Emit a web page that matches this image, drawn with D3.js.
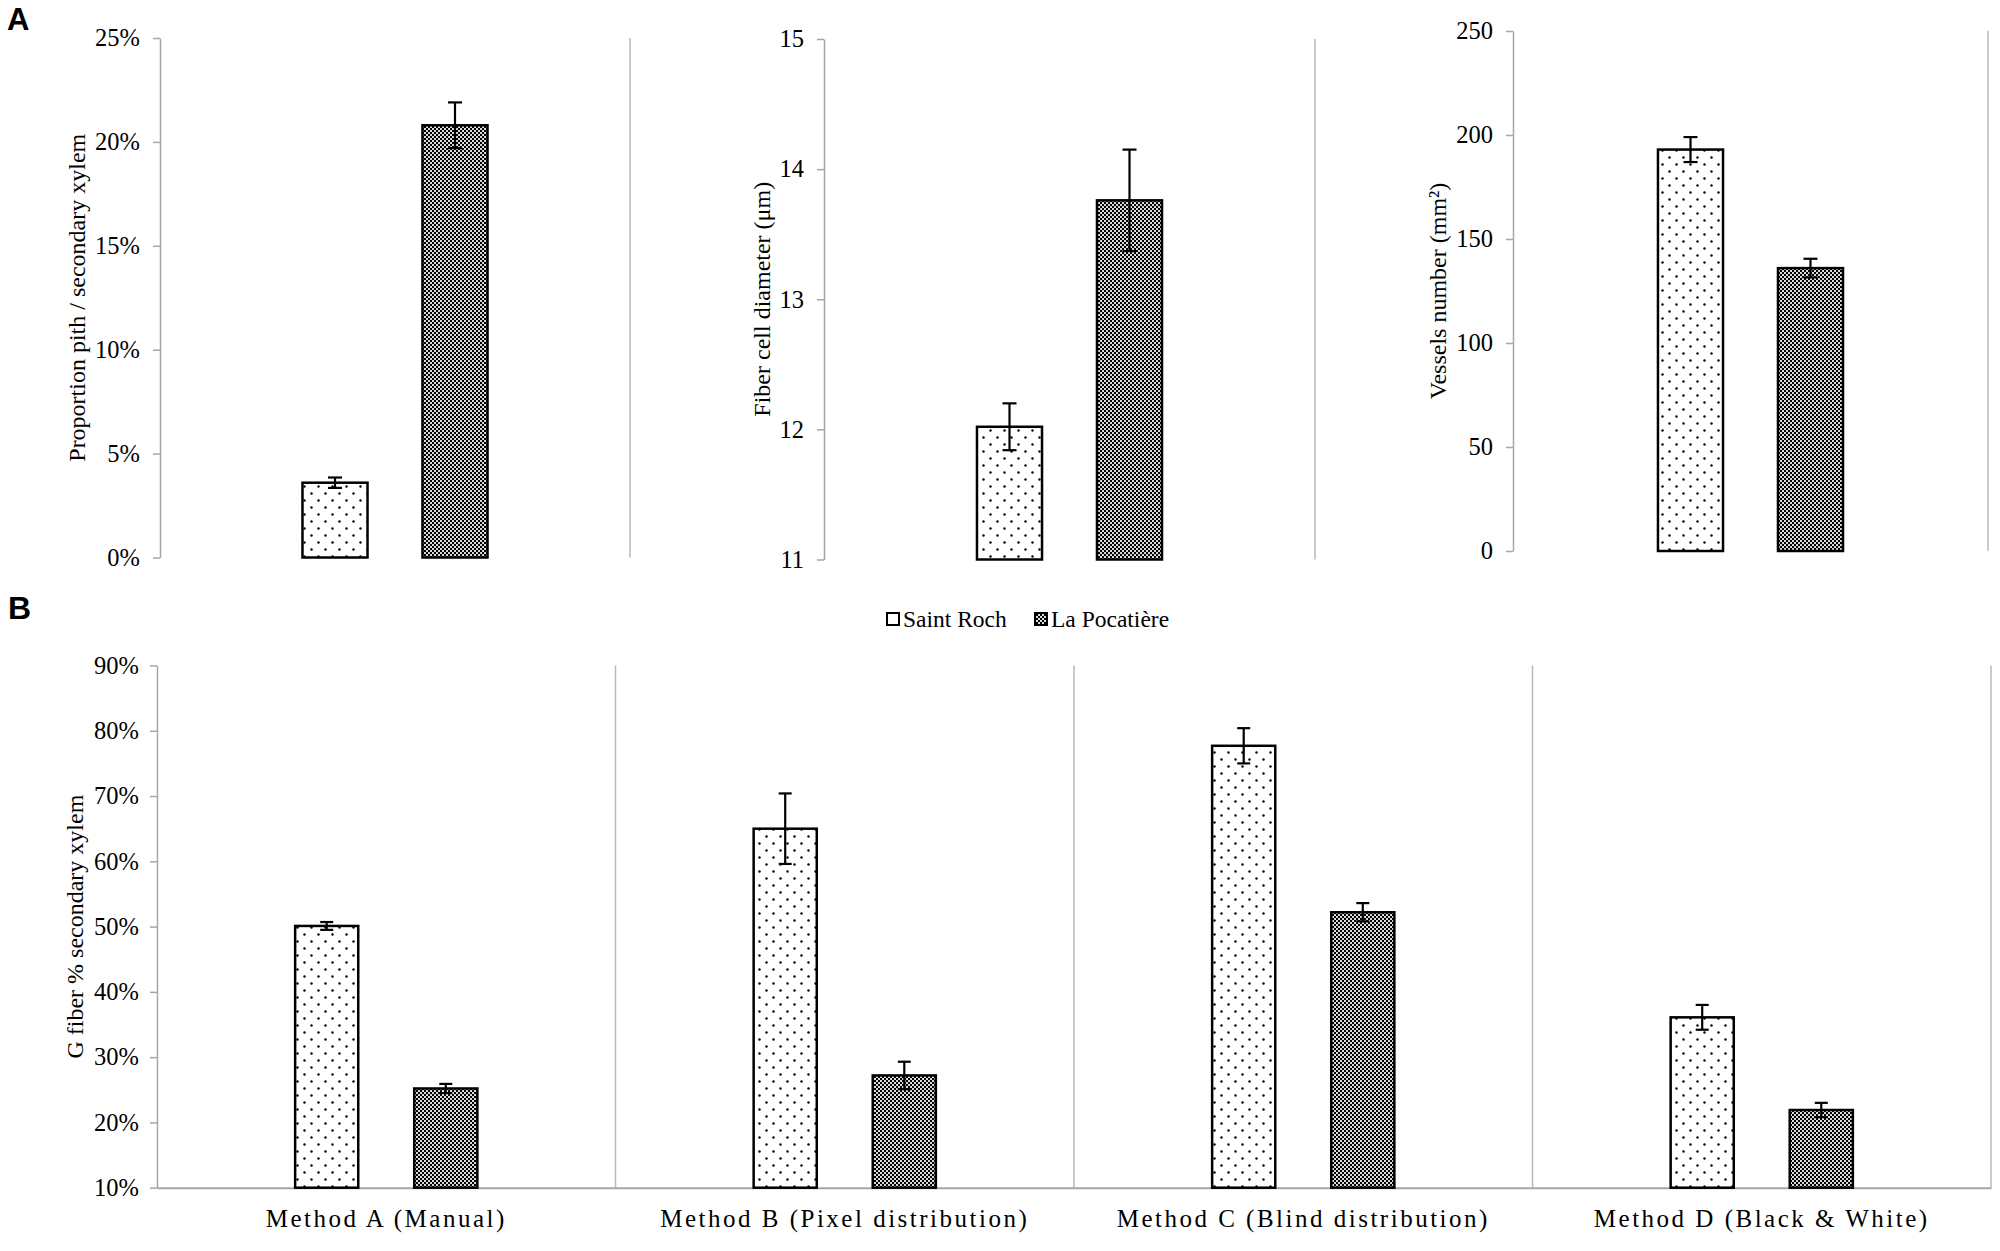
<!DOCTYPE html>
<html>
<head>
<meta charset="utf-8">
<script src="https://cdn.jsdelivr.net/npm/d3@7"></script>
<style>
  html, body { margin: 0; padding: 0; background: #fff; }
  svg { display: block; }
  text { font-family: "Liberation Serif", "Times New Roman", serif; fill: #000; }
  .panel-letter { font-family: "Liberation Sans", Arial, sans-serif; font-weight: bold; }
</style>
</head>
<body>
<svg id="chart" width="2000" height="1251"></svg>
<script>
// ---------------- data ----------------
const seriesNames = ["Saint Roch", "La Pocatière"];

const pithTitle = "Proportion pith / secondary xylem";
const pithValues = [0.036, 0.208];
const pithErrors = [0.0025, 0.011];
const pithTicks = [0, 0.05, 0.10, 0.15, 0.20, 0.25];

const fiberTitle = "Fiber cell diameter (μm)";
const fiberValues = [12.02, 13.76];
const fiberErrors = [0.18, 0.39];
const fiberTicks = [11, 12, 13, 14, 15];

const vesselTitle = "Vessels number (mm²)";
const vesselValues = [193, 136];
const vesselErrors = [6, 4.5];
const vesselTicks = [0, 50, 100, 150, 200, 250];

const methods = ["Method A (Manual)", "Method B (Pixel distribution)", "Method C (Blind distribution)", "Method D (Black & White)"];
const gfiberSaintRoch = [0.501, 0.650, 0.777, 0.361];
const gfiberSaintRochErr = [0.006, 0.054, 0.027, 0.019];
const gfiberLaPocatiere = [0.252, 0.272, 0.522, 0.219];
const gfiberLaPocatiereErr = [0.007, 0.021, 0.014, 0.011];
const gfiberTitle = "G fiber % secondary xylem";
const gfiberTicks = [0.1, 0.2, 0.3, 0.4, 0.5, 0.6, 0.7, 0.8, 0.9];

// ---------------- setup ----------------
const svg = d3.select("#chart");
const axisColor = "#a6a6a6";
const gridColor = "#b8b8b8";
const FONT = 24.5;

const defs = svg.append("defs");
// dotted pattern (Saint Roch)
const pDots = defs.append("pattern").attr("id", "dots")
  .attr("patternUnits", "userSpaceOnUse").attr("width", 14).attr("height", 14);
pDots.append("rect").attr("width", 14).attr("height", 14).attr("fill", "#fff");
pDots.append("circle").attr("cx", 3.5).attr("cy", 3.5).attr("r", 1.2).attr("fill", "#000");
pDots.append("circle").attr("cx", 10.5).attr("cy", 10.5).attr("r", 1.2).attr("fill", "#000");
// dense checker pattern (La Pocatière)
const pCheck = defs.append("pattern").attr("id", "checker")
  .attr("patternUnits", "userSpaceOnUse").attr("width", 4).attr("height", 4);
pCheck.append("rect").attr("width", 4).attr("height", 4).attr("fill", "#000");
pCheck.append("rect").attr("x", 0.1).attr("y", 0.1).attr("width", 1.85).attr("height", 1.85).attr("fill", "#fff");
pCheck.append("rect").attr("x", 2.1).attr("y", 2.1).attr("width", 1.85).attr("height", 1.85).attr("fill", "#fff");

const fills = ["url(#dots)", "url(#checker)"];

function styleAxis(g) {
  g.select(".domain").attr("stroke", axisColor).attr("stroke-width", 1.5);
  g.selectAll(".tick line").attr("stroke", axisColor).attr("stroke-width", 1.5);
  g.selectAll(".tick text").style("font-family", '"Liberation Serif", "Times New Roman", serif')
    .style("font-size", FONT + "px").attr("fill", "#000");
}

function addErrorBars(g, data, xCenter, yScale, cap) {
  const eb = g.selectAll("g.err").data(data).join("g").attr("class", "err")
    .attr("stroke", "#000").attr("stroke-width", 2.2);
  eb.append("line").attr("x1", xCenter).attr("x2", xCenter)
    .attr("y1", d => yScale(d.v + d.e)).attr("y2", d => yScale(d.v - d.e));
  eb.append("line").attr("x1", d => xCenter(d) - cap).attr("x2", d => xCenter(d) + cap)
    .attr("y1", d => yScale(d.v + d.e)).attr("y2", d => yScale(d.v + d.e));
  eb.append("line").attr("x1", d => xCenter(d) - cap).attr("x2", d => xCenter(d) + cap)
    .attr("y1", d => yScale(d.v - d.e)).attr("y2", d => yScale(d.v - d.e));
}

// ---------------- Panel A ----------------
const panelsA = [
  { box: [160, 630, 38, 557.5], labelX: 77, domain: [0, 0.25], ticks: pithTicks, fmt: d3.format(".0%"), title: pithTitle, values: pithValues, errors: pithErrors },
  { box: [824, 1315, 39, 559.5], labelX: 762, domain: [11, 15], ticks: fiberTicks, fmt: d3.format("d"), title: fiberTitle, values: fiberValues, errors: fiberErrors },
  { box: [1513, 1988, 31, 551], labelX: 1438, domain: [0, 250], ticks: vesselTicks, fmt: d3.format("d"), title: vesselTitle, values: vesselValues, errors: vesselErrors }
];

panelsA.forEach(p => {
  const [x0, x1, yTop, yBot] = p.box;
  const y = d3.scaleLinear().domain(p.domain).range([yBot, yTop]);
  const cx = (x0 + x1) / 2;
  const xs = d3.scaleBand().domain(seriesNames).range([cx - 120, cx + 120]).paddingInner(0.458).paddingOuter(0.229);
  const g = svg.append("g");

  g.append("line").attr("x1", x1).attr("x2", x1).attr("y1", yTop).attr("y2", yBot)
    .attr("stroke", gridColor).attr("stroke-width", 1.5);

  const ax = g.append("g").attr("transform", `translate(${x0},0)`)
    .call(d3.axisLeft(y).tickValues(p.ticks).tickFormat(p.fmt).tickSize(7).tickPadding(13).tickSizeOuter(0));
  styleAxis(ax);

  g.append("text").attr("transform", `translate(${p.labelX},${(yTop + yBot) / 2}) rotate(-90)`)
    .attr("text-anchor", "middle").attr("dy", "0.35em").style("font-size", "24px").text(p.title);

  const data = seriesNames.map((s, i) => ({ s, v: p.values[i], e: p.errors[i], i }));
  g.selectAll("rect.bar").data(data).join("rect").attr("class", "bar")
    .attr("x", d => xs(d.s)).attr("width", xs.bandwidth())
    .attr("y", d => y(d.v)).attr("height", d => y(p.domain[0]) - y(d.v))
    .attr("fill", d => fills[d.i]).attr("stroke", "#000").attr("stroke-width", 2.5);

  addErrorBars(g, data, d => xs(d.s) + xs.bandwidth() / 2, y, 7);
});

svg.append("text").attr("class", "panel-letter").attr("x", 7).attr("y", 30).style("font-size", "31px").text("A");
svg.append("text").attr("class", "panel-letter").attr("x", 8).attr("y", 619).style("font-size", "32px").text("B");

// ---------------- Legend ----------------
const legend = svg.append("g");
const legendItems = [{ s: seriesNames[0], x: 886, i: 0 }, { s: seriesNames[1], x: 1034, i: 1 }];
legendItems.forEach(it => {
  legend.append("rect").attr("x", it.x + 1).attr("y", 613).attr("width", 12).attr("height", 12)
    .attr("fill", fills[it.i]).attr("stroke", "#000").attr("stroke-width", 2);
  legend.append("text").attr("x", it.x + 17).attr("y", 626.5).style("font-size", "23.5px").text(it.s);
});

// ---------------- Panel B ----------------
const bBox = [157, 1991, 665.5, 1187.7];
const xB = d3.scaleBand().domain(methods).range([bBox[0], bBox[1]]).padding(0);
const xBs = d3.scaleBand().domain(seriesNames).range([0, xB.bandwidth()]).paddingInner(0.47).paddingOuter(1.16);
const yB = d3.scaleLinear().domain([0.1, 0.9]).range([bBox[3], bBox[2]]);
const gB = svg.append("g");

const boundaries = methods.map(m => xB(m) + xB.bandwidth());
gB.selectAll("line.grid").data(boundaries).join("line").attr("class", "grid")
  .attr("x1", d => d).attr("x2", d => d).attr("y1", bBox[2]).attr("y2", bBox[3])
  .attr("stroke", gridColor).attr("stroke-width", 1.5);

const axB = gB.append("g").attr("transform", `translate(${bBox[0]},0)`)
  .call(d3.axisLeft(yB).tickValues(gfiberTicks).tickFormat(d3.format(".0%")).tickSize(7).tickPadding(11).tickSizeOuter(0));
styleAxis(axB);

const axBx = gB.append("g").attr("transform", `translate(0,${bBox[3]})`)
  .call(d3.axisBottom(xB).tickSize(0).tickPadding(22).tickSizeOuter(0));
axBx.select(".domain").attr("stroke", axisColor).attr("stroke-width", 2);
axBx.selectAll(".tick text").style("font-family", '"Liberation Serif", "Times New Roman", serif')
  .style("font-size", "25px").style("letter-spacing", "2.5px").attr("fill", "#000");

gB.append("text").attr("transform", `translate(75,${(bBox[2] + bBox[3]) / 2}) rotate(-90)`)
  .attr("text-anchor", "middle").attr("dy", "0.35em").style("font-size", "24px").text(gfiberTitle);

const bData = [];
methods.forEach((m, j) => {
  bData.push({ m, s: seriesNames[0], v: gfiberSaintRoch[j], e: gfiberSaintRochErr[j], i: 0 });
  bData.push({ m, s: seriesNames[1], v: gfiberLaPocatiere[j], e: gfiberLaPocatiereErr[j], i: 1 });
});
const bx = d => xB(d.m) + xBs(d.s);
gB.selectAll("rect.bar").data(bData).join("rect").attr("class", "bar")
  .attr("x", bx).attr("width", xBs.bandwidth())
  .attr("y", d => yB(d.v)).attr("height", d => yB(0.1) - yB(d.v))
  .attr("fill", d => fills[d.i]).attr("stroke", "#000").attr("stroke-width", 2.5);

addErrorBars(gB, bData, d => bx(d) + xBs.bandwidth() / 2, yB, 6.5);
</script>
</body>
</html>
